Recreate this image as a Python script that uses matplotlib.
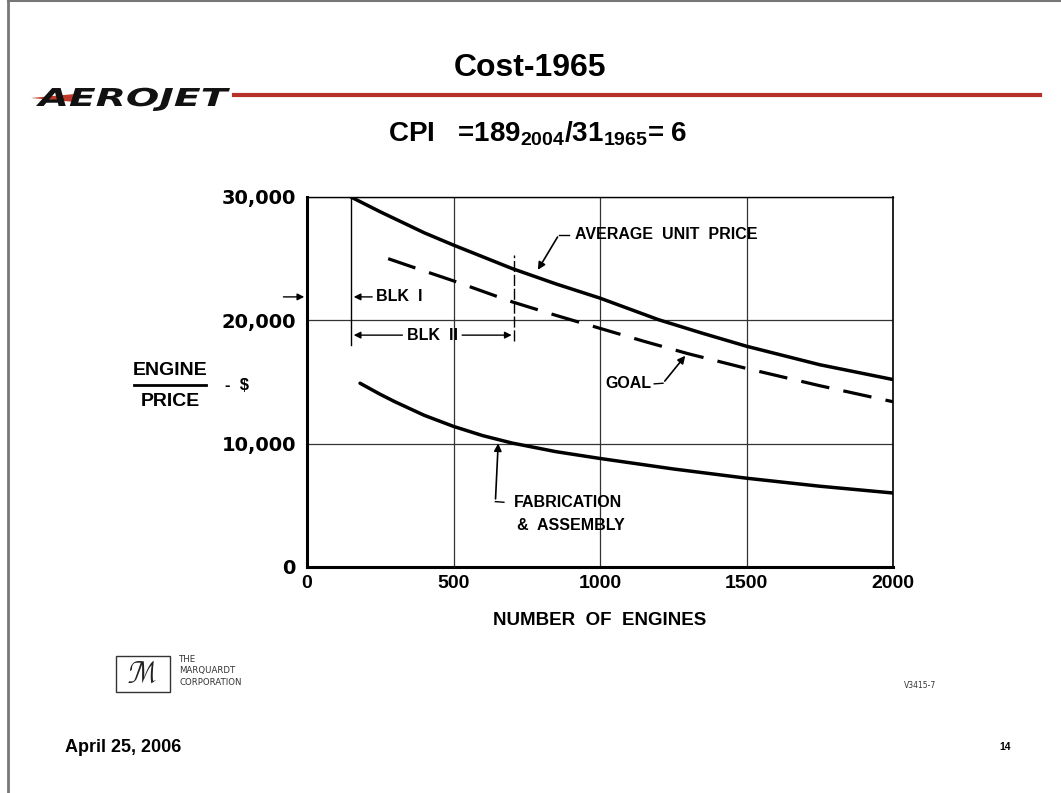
import matplotlib
matplotlib.use("Agg")
import matplotlib.pyplot as plt
from matplotlib.lines import Line2D
from matplotlib.patches import Rectangle, Polygon, PathPatch
from matplotlib.textpath import TextPath
from matplotlib.font_manager import FontProperties
from matplotlib.transforms import Affine2D, IdentityTransform

plt.rcParams["mathtext.fontset"] = "custom"
plt.rcParams["mathtext.bf"] = "Liberation Sans:bold"
plt.rcParams["mathtext.rm"] = "Liberation Sans"

# values
engines_avg = [150, 250, 400, 500, 700, 850, 1000, 1200, 1350, 1500, 1750, 2000]
price_avg = [30000, 28800, 27100, 26100, 24200, 22950, 21800, 20050, 18950, 17900, 16400, 15200]

engines_goal = [277, 400, 500, 700, 850, 1000, 1150, 1300, 1500, 1750, 2000]
price_goal = [25000, 24000, 23200, 21500, 20400, 19350, 18300, 17300, 16100, 14700, 13400]

engines_fab = [181, 250, 300, 400, 500, 600, 700, 850, 1000, 1250, 1500, 1750, 2000]
price_fab = [14900, 14000, 13400, 12300, 11400, 10650, 10050, 9350, 8800, 7950, 7200, 6550, 6000]

x_ticks = [0, 500, 1000, 1500, 2000]
x_labels = ["0", "500", "1000", "1500", "2000"]
y_ticks = [0, 10000, 20000, 30000]
y_labels = ["0", "10,000", "20,000", "30,000"]

blk1_start = 150
blk2_end = 708

W, H = 1061, 793
chart_font = "Liberation Sans"

fig = plt.figure(figsize=(W / 100, H / 100), dpi=100)
ax = fig.add_axes([307 / W, 1 - 567 / H, 586 / W, 370 / H])

ax.plot(engines_avg, price_avg, color="black", lw=2.5, solid_capstyle="round",
        solid_joinstyle="round")
ax.plot(engines_goal, price_goal, color="black", lw=2.3, dashes=(9, 4.5))
ax.plot(engines_fab, price_fab, color="black", lw=2.5, solid_capstyle="round",
        solid_joinstyle="round")

ax.set_xlim(0, 2000)
ax.set_ylim(0, 30000)
ax.set_xticks(x_ticks)
ax.set_xticklabels(x_labels)
ax.set_yticks(y_ticks)
ax.set_yticklabels(y_labels)
ax.tick_params(axis="x", length=0, pad=6)
ax.tick_params(axis="y", length=0, pad=8)
for lab in ax.get_xticklabels():
    lab.set_fontfamily("Liberation Sans")
    lab.set_fontweight("bold")
    lab.set_fontsize(14)
for lab in ax.get_yticklabels():
    lab.set_fontfamily("DejaVu Sans")
    lab.set_fontweight("bold")
    lab.set_fontsize(14)
ax.grid(True, color="#333333", lw=0.9)
ax.spines["left"].set_linewidth(2.2)
ax.spines["bottom"].set_linewidth(2.2)
ax.spines["top"].set_linewidth(1.0)
ax.spines["right"].set_linewidth(1.2)

ax.set_xlabel("NUMBER  OF  ENGINES", fontfamily=chart_font, fontweight="bold",
              fontsize=13.5, labelpad=14)

# block markers
arrow = dict(arrowstyle="-|>", color="black", lw=1, mutation_scale=10)
lbl = dict(fontfamily=chart_font, fontweight="bold", fontsize=11.5, va="center")
ax.plot([blk1_start, blk1_start], [18000, 30000], color="black", lw=1.0)
ax.plot([blk2_end, blk2_end], [18300, 25300], color="black", lw=1.0, dashes=(8, 2))
ax.annotate("", xy=(blk1_start, 21900), xytext=(232, 21900), arrowprops=arrow)
ax.text(236, 21900, "BLK  I", ha="left", **lbl)
ax.annotate("", xy=(blk1_start, 18800), xytext=(335, 18800), arrowprops=arrow)
ax.annotate("", xy=(blk2_end, 18800), xytext=(520, 18800), arrowprops=arrow)
ax.text(427, 18800, "BLK  II", ha="center", **lbl)
ax.annotate("", xy=(0, 21900), xytext=(-90, 21900), arrowprops=arrow,
            annotation_clip=False)

# curve labels
pointer = dict(arrowstyle="-|>", color="black", lw=1.2, mutation_scale=11)
ax.text(915, 26950, "AVERAGE  UNIT  PRICE", ha="left", **lbl)
ax.plot([895, 860], [26950, 26950], color="black", lw=1.0)
ax.annotate("", xy=(783, 23900), xytext=(860, 26950), arrowprops=pointer)

ax.text(1175, 14850, "GOAL", ha="right", **lbl)
ax.plot([1185, 1215], [14850, 14900], color="black", lw=1.0)
ax.annotate("", xy=(1297, 17300), xytext=(1215, 14900), arrowprops=pointer)

ax.text(705, 5250, "FABRICATION", ha="left", **lbl)
ax.text(718, 3400, "&  ASSEMBLY", ha="left", **lbl)
ax.plot([643, 672], [5300, 5250], color="black", lw=1.0)
ax.annotate("", xy=(653, 10250), xytext=(643, 5300), arrowprops=pointer)

# y label
fig.text(170 / W, 1 - 370 / H, "ENGINE", fontfamily=chart_font, fontweight="bold",
         fontsize=14, ha="center", va="center")
fig.text(170 / W, 1 - 402 / H, "PRICE", fontfamily=chart_font, fontweight="bold",
         fontsize=14, ha="center", va="center")
fig.add_artist(Line2D([134 / W, 206 / W], [1 - 385 / H, 1 - 385 / H],
                      color="black", lw=2))
fig.text(225 / W, 1 - 386 / H, "-  $", fontfamily=chart_font, fontweight="bold",
         fontsize=12, ha="left", va="center")

# slide decorations
fig.text(530 / W, 1 - 68 / H, "Cost-1965", fontfamily="Liberation Sans",
         fontweight="bold", fontsize=23, ha="center", va="center")
fig.text(538 / W, 1 - 134 / H,
         r"CPI   =189$_{\mathbf{2004}}$/31$_{\mathbf{1965}}$= 6",
         fontfamily="Liberation Sans", fontweight="bold", fontsize=20,
         ha="center", va="center")

# Aerojet wordmark, stretched wide
logo = TextPath((0, 0), "AEROJET",
                prop=FontProperties(family="DejaVu Sans", weight="bold", style="oblique"),
                size=25)
ext = logo.get_extents()
sx = (230 - 36) / ext.width
sy = 18 / (0.73 * 25)
logo_tf = Affine2D().translate(-ext.x0, 0).scale(sx, sy).translate(36, H - 106)
fig.add_artist(Polygon([[31, H - 98], [75, H - 94], [75, H - 102]], closed=True,
                       color="#c0392b", lw=0, zorder=1, transform=IdentityTransform()))
fig.add_artist(PathPatch(logo, transform=logo_tf + IdentityTransform(),
                         color="#111111", lw=0, zorder=5))
fig.add_artist(Line2D([234 / W, 1040 / W], [1 - 95 / H, 1 - 95 / H],
                      color="#b5322a", lw=3))

fig.add_artist(Line2D([7.5 / W, 7.5 / W], [0, 1], color="#777777", lw=2))
fig.add_artist(Line2D([7.5 / W, 1], [1 - 0.5 / H, 1 - 0.5 / H], color="#777777", lw=1.5))

fig.add_artist(Rectangle((116 / W, 1 - 692 / H), 54 / W, 36 / H,
                         fill=False, ec="#333333", lw=1))
fig.text(143 / W, 1 - 675 / H, "$\\mathcal{M}$", fontsize=20, ha="center",
         va="center", color="#222222")
fig.text(179 / W, 1 - 671 / H, "THE\nMARQUARDT\nCORPORATION",
         fontfamily="DejaVu Sans", fontsize=6.2, ha="left", va="center",
         linespacing=1.3, color="#333333")
fig.text(920 / W, 1 - 686 / H, "V3415-7", fontfamily="DejaVu Sans",
         fontsize=5.5, ha="center", va="center", color="#333333")
fig.text(65 / W, 1 - 747 / H, "April 25, 2006", fontfamily="Liberation Sans",
         fontweight="bold", fontsize=13, ha="left", va="center")
fig.text(1005 / W, 1 - 747 / H, "14", fontfamily="Liberation Sans",
         fontweight="bold", fontsize=7.5, ha="center", va="center")

fig.savefig("out.png", dpi=100)
